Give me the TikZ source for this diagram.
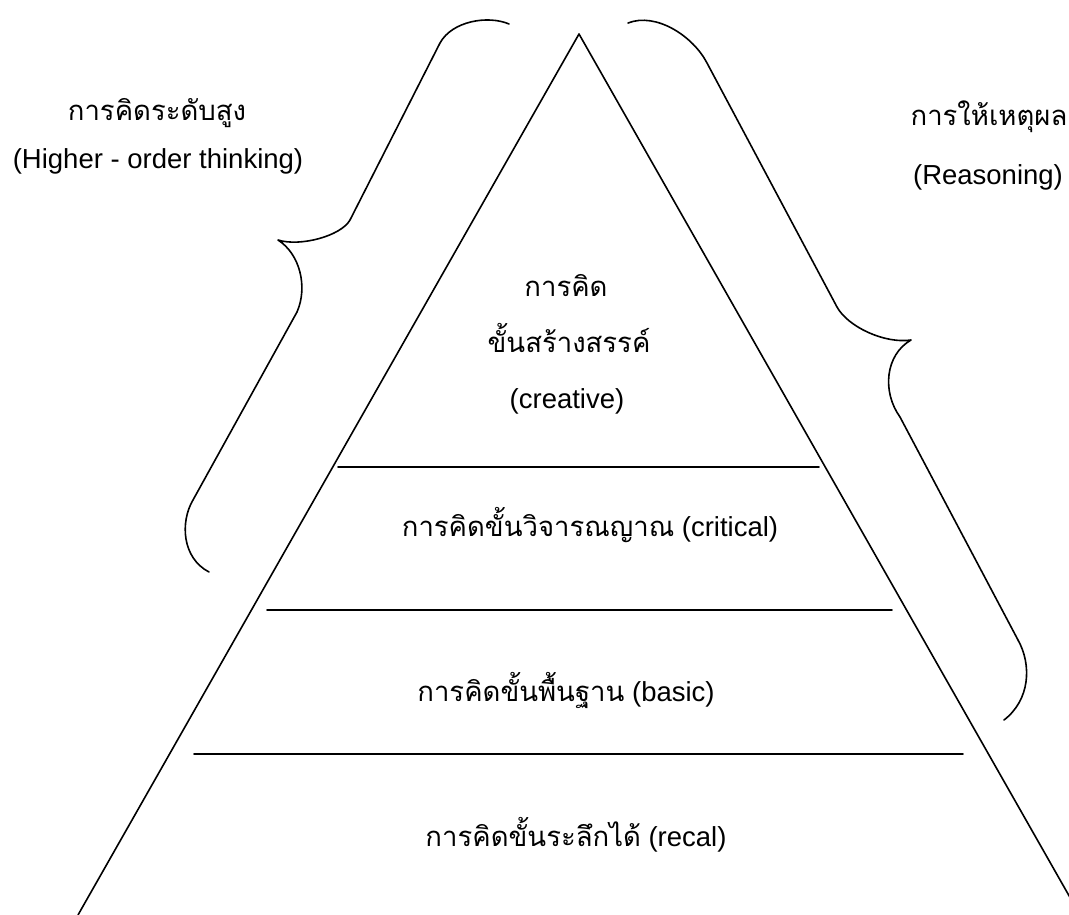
\documentclass[tikz,border=0pt]{standalone}
\usepackage{fontspec}
\setmainfont{Liberation Sans}
\newfontfamily\thaifont[Script=Thai]{Loma}
\begin{document}
\begin{tikzpicture}[x=1pt,y=-1pt,
  ln/.style={line width=1.6pt, line cap=round, line join=round},
  lbl/.style={inner sep=0pt, font=\fontsize{27.5}{32}\selectfont, text height=20pt, text depth=6pt, anchor=center}]
\useasboundingbox (0,0) rectangle (1069,915);
\path[clip] (0,0) rectangle (1069,915);
% triangle
\coordinate (apex) at (579,34);
\coordinate (bl) at (78,915);
\coordinate (br) at (1080,915);
\draw[ln] (bl) -- (apex) -- (br);
% level separators
\coordinate (l1a) at (338,467); \coordinate (l1b) at (819,467);
\coordinate (l2a) at (267,610); \coordinate (l2b) at (892,610);
\coordinate (l3a) at (194,754); \coordinate (l3b) at (963,754);
\draw[ln] (l1a) -- (l1b);
\draw[ln] (l2a) -- (l2b);
\draw[ln] (l3a) -- (l3b);
% left brace
\coordinate (lbT) at (509,24);
\coordinate (lbC) at (278,240);
\coordinate (lbB) at (209,572);
\draw[ln] (lbT) .. controls (488,15) and (452,21) .. (440,43) -- (350,220)
  .. controls (341,236) and (300,247) .. (lbC)
  .. controls (300,254) and (308,287) .. (297,312) -- (193,500)
  .. controls (180,522) and (182,558) .. (lbB);
% right brace
\coordinate (rbT) at (628,23);
\coordinate (rbC) at (911,340);
\coordinate (rbB) at (1004,720);
\draw[ln] (rbT) .. controls (656,12) and (693,36) .. (707,63) -- (837,307)
  .. controls (848,327) and (885,344) .. (rbC)
  .. controls (885,355) and (882,392) .. (900,417) -- (1018,640)
  .. controls (1032,665) and (1030,700) .. (rbB);
% labels
\node[lbl] (hoT) at (157,114) {\thaifont การคิดระดับสูง};
\node[lbl] (hoE) at (158,162) {(Higher - order thinking)};
\node[lbl] (rsT) at (989,119) {\thaifont การให้เหตุผล};
\node[lbl] (rsE) at (988,178) {(Reasoning)};
\node[lbl] (cr1) at (566,289) {\thaifont การคิด};
\node[lbl] (cr2) at (569,345) {\thaifont ขั้นสร้างสรรค์};
\node[lbl] (cr3) at (567,401) {(creative)};
\node[lbl] (crit) at (590,529) {{\thaifont การคิดขั้นวิจารณญาณ} (critical)};
\node[lbl] (basic) at (566,694) {{\thaifont การคิดขั้นพื้นฐาน} (basic)};
\node[lbl] (recal) at (576,839) {{\thaifont การคิดขั้นระลึกได้} (recal)};
\end{tikzpicture}
\end{document}
